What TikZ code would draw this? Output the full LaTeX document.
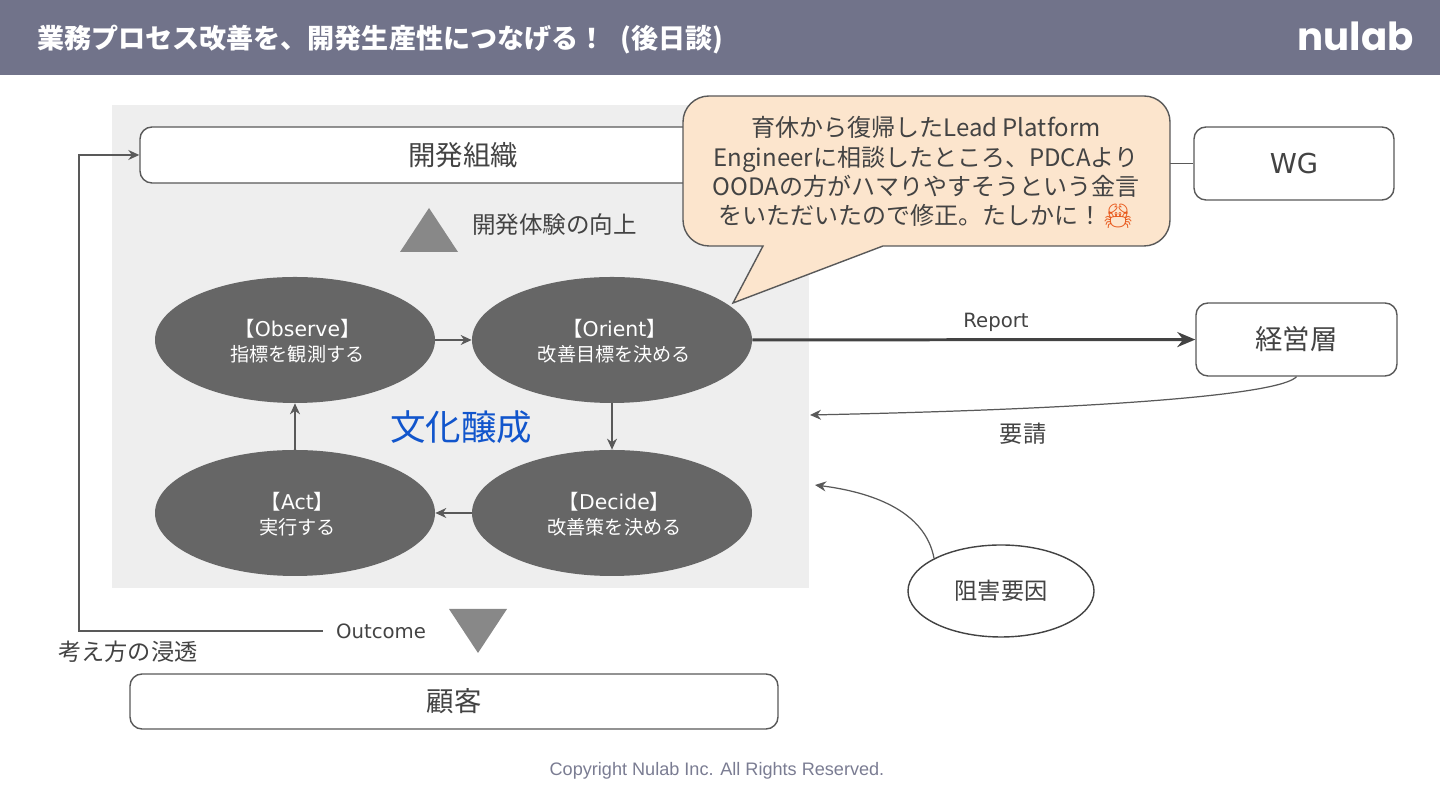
\documentclass[tikz,border=0pt]{standalone}
\usepackage{fontspec}
\usepackage{xcolor}
\usetikzlibrary{arrows.meta, positioning, shapes.geometric}
\setmainfont{Noto Sans CJK JP}
\newfontfamily\latinfont{DejaVu Sans}
\newfontfamily\logofont{Poppins}
\newfontfamily\footfont{Liberation Sans}
\newfontfamily\emojifont{Noto Emoji}
\definecolor{HD}{RGB}{113,115,138}
\definecolor{PN}{RGB}{238,238,238}
\definecolor{EL}{RGB}{102,102,102}
\definecolor{TR}{RGB}{136,136,136}
\definecolor{DG}{RGB}{67,67,67}
\definecolor{LN}{RGB}{89,89,89}
\definecolor{BL}{RGB}{17,85,204}
\definecolor{CB}{RGB}{252,229,205}
\definecolor{CR}{RGB}{232,89,28}
\definecolor{FT}{RGB}{122,124,146}

\begin{document}
\begin{tikzpicture}[
  arr/.style={draw=LN, line width=0.7pt, -{Stealth[length=2.2mm,width=2mm]}},
  rbox/.style={draw=LN, fill=white, line width=0.8pt, rounded corners=0.24cm,
               text=DG, text height=1.3em, text depth=0.12em,
               font=\fontsize{15.6}{18}\selectfont},
  oval/.style={ellipse, fill=EL, minimum width=5.6cm, minimum height=2.52cm, inner sep=0pt},
  ovaltext/.style={align=center, text=white, inner sep=0pt, font=\fontsize{10.9}{14.3}\selectfont},
  lbl/.style={text=DG, font=\fontsize{13.2}{16}\selectfont},
  wlbl/.style={text=DG, font=\fontsize{11.2}{14}\latinfont}
]
\useasboundingbox (0,0) rectangle (28.8,16.2);

% Header band
\fill[HD] (0,14.7) rectangle (28.8,16.2);
\node[anchor=west, text=white, font=\fontsize{15.4}{18}\selectfont\bfseries] (title) at (0.62,15.41)
  {業務プロセス改善を、開発生産性につなげる！\hspace{0.18cm} (後日談)};
\node[anchor=east, text=white, font=\fontsize{22}{26}\logofont\bfseries] (logo) at (28.4,15.48) {nulab};

% Panel behind the loop
\fill[PN] (2.24,4.44) rectangle (16.18,14.1);

% Boxes
\node[rbox, minimum width=12.92cm, minimum height=1.12cm] (org) at (9.26,13.1) {開発組織};
\node[rbox, minimum width=4cm, minimum height=1.46cm] (wg) at (25.88,12.93) {\latinfont WG};
\node[rbox, minimum width=4.02cm, minimum height=1.46cm] (mgmt) at (25.93,9.41) {経営層};
\node[rbox, minimum width=12.96cm, minimum height=1.1cm] (customer) at (9.08,2.17) {顧客};
\draw[LN, line width=0.8pt] (org.east |- wg) -- (wg);

% Loop
\foreach \name/\x/\y/\head/\body in {observe/5.9/9.4/Observe/指標を観測する,
    orient/12.24/9.4/Orient/改善目標を決める,
    act/5.9/5.94/Act/実行する,
    decide/12.24/5.94/Decide/改善策を決める}{%
  \node[oval] (\name) at (\x,\y) {};
  \node[ovaltext] (\name-text) at ([shift={(0.05,-0.03)}]\name) {{\fontsize{11.6}{14.3}\selectfont【{\latinfont\head}】}\\\body};
}
\draw[arr] (observe) -- (orient);
\draw[arr] (orient) -- (decide);
\draw[arr] (decide) -- (act);
\draw[arr] (act) -- (observe);

% Triangles
\fill[TR] (8,11.16) -- (9.16,11.16) -- (8.58,12.04) -- cycle;
\fill[TR] (8.98,4.02) -- (10.14,4.02) -- (9.56,3.14) -- cycle;

\node[lbl, anchor=west, font=\fontsize{13.4}{16}\selectfont] (dx) at (9.32,11.7) {開発体験の向上};
\node[text=BL, font=\fontsize{20.2}{24}\selectfont] (culture) at (9.22,7.66) {文化醸成};

% Report and request
\draw[draw=DG, line width=1.7pt, -{Stealth[length=3.6mm,width=3mm]}] (orient) -- (mgmt);
\node[wlbl] (report) at (19.92,9.76) {Report};
\coordinate (reqend) at (16.2,7.9);
\draw[arr] (mgmt.south) .. controls (25.6,8.3) and (22,8.02) .. (reqend);
\node[lbl] (request) at (20.46,7.52) {要請};

% Blocker
\node[ellipse, draw=DG, fill=white, line width=0.8pt, minimum width=3.72cm, minimum height=1.84cm,
      inner sep=0pt, lbl] (blocker) at (20.02,4.38) {阻害要因};
\coordinate (blockend) at (16.3,6.5);
\draw[arr] (blocker.154) .. controls (18.5,6) and (17.4,6.36) .. (blockend);

% Outcome
\node[wlbl, inner xsep=0.26cm] (outcome) at (7.62,3.58) {Outcome};
\coordinate (turn) at (1.58,13.1);
\draw[arr] (outcome.west) -| (turn) -- (org.west);
\node[lbl] (spread) at (2.56,3.16) {考え方の浸透};

% Speech bubble
\coordinate (tip) at (14.66,10.14);
\draw[draw=LN, fill=CB, line width=0.8pt]
  (15.26,11.28) -- (tip) -- (17.66,11.28)
  [rounded corners=0.52cm] -- (23.4,11.28) -- (23.4,14.28) -- (13.66,14.28) -- (13.66,11.28)
  [sharp corners] -- cycle;
\node[align=center, text=DG, font=\fontsize{13.66}{16.6}\selectfont] (note) at (18.52,12.75)
  {育休から復帰したLead Platform\\Engineerに相談したところ、PDCAより\\OODAの方がハマりやすそうという金言\\をいただいたので修正。たしかに！{\emojifont\color{CR}🦀}};

% Footer
\node[text=FT, font=\fontsize{10.3}{12}\footfont] (copy) at (14.34,0.78) {Copyright Nulab Inc. All Rights Reserved.};
\end{tikzpicture}
\end{document}
